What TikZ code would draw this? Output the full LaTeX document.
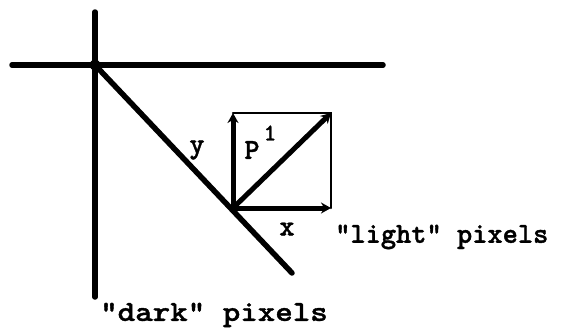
\documentclass[tikz,border=0pt]{standalone}
\usepackage{fontspec}
\usepackage{graphicx}
\newfontfamily\twfont{lmmonolt10-bold.otf}[FakeBold=1.2]
\usetikzlibrary{arrows.meta}
\tikzset{
  thickline/.style={line width=5.5pt, line cap=round},
  thinline/.style={line width=2.5pt, line cap=round},
  vecarrow/.style={line width=5pt, -{Stealth[length=10pt,width=11pt]}},
  lbl/.style={font=\twfont\fontsize{29}{34}\selectfont, inner sep=0pt}
}
\begin{document}
\begin{tikzpicture}[x=1pt,y=-1pt]
\useasboundingbox (0,0) rectangle (585,332);
% coordinates
\coordinate (vt) at (95,12);
\coordinate (vb) at (95,297);
\coordinate (hl) at (12,65);
\coordinate (hr) at (383,65);
\coordinate (O) at (95,65);
\coordinate (E) at (292,273);
\coordinate (A) at (233,208);
\coordinate (B) at (233,113);
\coordinate (C) at (331,113);
\coordinate (D) at (331,208);
% axes
\draw[thickline] (vt) -- (vb);
\draw[thickline] (hl) -- (hr);
\draw[thickline] (O) -- (E);
\fill (O) circle (5.5pt);
% box
\draw[thinline] (B) -- (C) -- (D);
\draw[vecarrow] (A) -- (B);
\draw[vecarrow] (A) -- (D);
\draw[vecarrow] (A) -- (C);
% labels
\node[lbl] (ly) at (197,150) {y};
\node[lbl] (lp) at (252,150) {P};
\node[lbl, font=\twfont\fontsize{24}{28}\selectfont] (l1) at (270,133) {1};
\node[lbl] (lx) at (287,229) {x};
\node[lbl, anchor=west] (light) at (335,237) {"light" pixels};
\node[lbl, anchor=west] (dark) at (100,315) {\scalebox{1.15}[1]{"dark" pixels}};
\end{tikzpicture}
\end{document}
